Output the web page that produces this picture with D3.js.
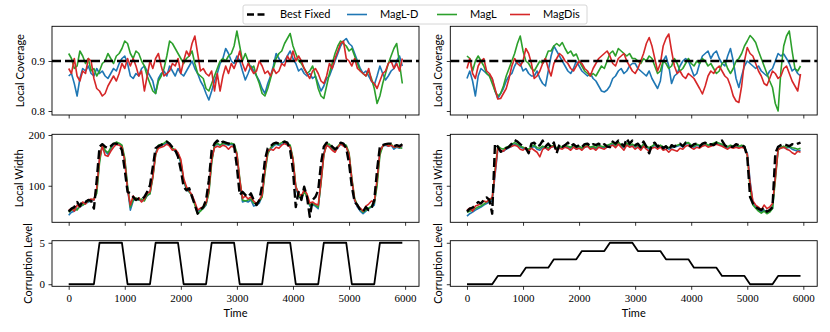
<!DOCTYPE html>
<html>
<head>
<meta charset="utf-8">
<script src="https://cdn.jsdelivr.net/npm/d3@7"></script>
<style>
  body { margin: 0; background: #fff; }
  .lbl { font-family: Lato, "Noto Sans", sans-serif; font-size: 11px; fill: #000; }
</style>
</head>
<body>
<div id="chart"></div>
<script>
// sampling grid, every 50 time steps
var time = d3.range(0, 6000, 50);

var seriesNames = ["Best Fixed", "MagL-D", "MagL", "MagDis"];
var seriesColors = ["#000000", "#1f77b4", "#2ca02c", "#d62728"];

var bestFixedCoverage = 0.9;

// local coverage, left experiment
var covLeftMagLD = [
  0.870,0.875,0.855,0.830,0.865,0.885,0.880,0.890,0.875,0.870,
  0.885,0.875,0.880,0.870,0.865,0.875,0.885,0.880,0.895,0.905,
  0.910,0.895,0.870,0.865,0.875,0.870,0.885,0.890,0.880,0.870,
  0.860,0.835,0.865,0.875,0.880,0.870,0.890,0.880,0.870,0.885,
  0.875,0.870,0.880,0.890,0.900,0.885,0.875,0.860,0.850,0.835,
  0.822,0.840,0.860,0.875,0.895,0.905,0.925,0.915,0.900,0.895,
  0.910,0.900,0.880,0.862,0.875,0.890,0.880,0.870,0.860,0.845,
  0.835,0.855,0.870,0.890,0.915,0.905,0.895,0.900,0.910,0.920,
  0.905,0.895,0.880,0.885,0.875,0.870,0.875,0.865,0.870,0.855,
  0.840,0.850,0.865,0.870,0.885,0.900,0.915,0.930,0.940,0.945,
  0.935,0.930,0.915,0.900,0.885,0.875,0.880,0.870,0.860,0.852,
  0.870,0.890,0.875,0.862,0.870,0.880,0.885,0.900,0.910,0.890];
var covLeftMagL = [
  0.915,0.905,0.885,0.890,0.920,0.910,0.895,0.905,0.880,0.885,
  0.870,0.880,0.895,0.900,0.915,0.905,0.895,0.910,0.915,0.925,
  0.940,0.935,0.915,0.905,0.920,0.915,0.900,0.890,0.870,0.855,
  0.840,0.835,0.860,0.870,0.885,0.910,0.940,0.935,0.925,0.915,
  0.905,0.895,0.905,0.910,0.920,0.895,0.875,0.870,0.865,0.845,
  0.840,0.855,0.870,0.885,0.900,0.905,0.900,0.910,0.915,0.930,
  0.960,0.930,0.900,0.915,0.900,0.885,0.890,0.870,0.855,0.835,
  0.830,0.845,0.865,0.885,0.905,0.915,0.920,0.935,0.945,0.955,
  0.930,0.915,0.900,0.895,0.885,0.875,0.880,0.890,0.870,0.845,
  0.830,0.825,0.850,0.875,0.895,0.915,0.930,0.940,0.935,0.930,
  0.920,0.925,0.910,0.895,0.880,0.875,0.870,0.880,0.865,0.845,
  0.815,0.830,0.855,0.875,0.895,0.910,0.925,0.935,0.895,0.855];
var covLeftMagDis = [
  0.885,0.875,0.905,0.870,0.860,0.880,0.875,0.905,0.900,0.865,
  0.845,0.840,0.830,0.835,0.850,0.860,0.870,0.860,0.875,0.895,
  0.885,0.905,0.890,0.905,0.890,0.870,0.880,0.840,0.870,0.900,
  0.885,0.905,0.915,0.890,0.870,0.875,0.880,0.895,0.890,0.905,
  0.875,0.900,0.920,0.910,0.935,0.950,0.915,0.880,0.885,0.875,
  0.870,0.880,0.840,0.875,0.840,0.870,0.890,0.875,0.895,0.885,
  0.900,0.920,0.895,0.880,0.895,0.885,0.875,0.880,0.900,0.890,
  0.875,0.880,0.870,0.885,0.875,0.880,0.895,0.890,0.910,0.900,
  0.920,0.900,0.910,0.900,0.885,0.875,0.865,0.880,0.885,0.875,
  0.860,0.855,0.870,0.895,0.885,0.905,0.920,0.935,0.940,0.905,
  0.900,0.890,0.905,0.885,0.880,0.875,0.870,0.885,0.860,0.855,
  0.845,0.860,0.875,0.880,0.895,0.900,0.885,0.895,0.880,0.905];

// local coverage, right experiment
var covRightMagLD = [
  0.865,0.880,0.860,0.830,0.870,0.885,0.880,0.875,0.870,0.865,
  0.840,0.825,0.835,0.845,0.860,0.870,0.875,0.890,0.900,0.895,
  0.880,0.885,0.875,0.870,0.870,0.880,0.865,0.855,0.850,0.880,
  0.910,0.930,0.920,0.910,0.900,0.890,0.880,0.875,0.885,0.900,
  0.890,0.880,0.875,0.870,0.875,0.865,0.860,0.850,0.840,0.838,
  0.842,0.850,0.865,0.870,0.880,0.885,0.875,0.880,0.890,0.895,
  0.895,0.885,0.880,0.875,0.870,0.880,0.865,0.855,0.845,0.860,
  0.900,0.910,0.890,0.855,0.870,0.875,0.890,0.900,0.905,0.900,
  0.885,0.870,0.875,0.895,0.910,0.915,0.920,0.905,0.915,0.920,
  0.905,0.895,0.890,0.910,0.925,0.900,0.865,0.847,0.870,0.890,
  0.900,0.895,0.890,0.885,0.890,0.880,0.875,0.870,0.880,0.885,
  0.900,0.915,0.910,0.914,0.905,0.895,0.880,0.885,0.875,0.870];
var covRightMagL = [
  0.910,0.905,0.880,0.900,0.910,0.900,0.890,0.875,0.870,0.855,
  0.840,0.830,0.835,0.850,0.870,0.885,0.900,0.915,0.935,0.950,
  0.920,0.900,0.895,0.885,0.880,0.890,0.900,0.895,0.905,0.920,
  0.920,0.930,0.935,0.930,0.937,0.925,0.915,0.920,0.910,0.914,
  0.900,0.890,0.880,0.875,0.870,0.875,0.870,0.880,0.890,0.885,
  0.900,0.915,0.920,0.910,0.925,0.920,0.915,0.910,0.915,0.905,
  0.905,0.900,0.895,0.905,0.900,0.910,0.905,0.890,0.875,0.880,
  0.900,0.895,0.885,0.890,0.905,0.895,0.880,0.885,0.895,0.905,
  0.895,0.890,0.900,0.895,0.905,0.900,0.890,0.895,0.885,0.875,
  0.880,0.895,0.900,0.885,0.875,0.885,0.900,0.905,0.915,0.930,
  0.940,0.951,0.945,0.937,0.920,0.905,0.890,0.875,0.860,0.847,
  0.815,0.800,0.880,0.930,0.950,0.960,0.920,0.885,0.880,0.890];
var covRightMagDis = [
  0.885,0.905,0.875,0.865,0.890,0.900,0.905,0.880,0.875,0.865,
  0.845,0.824,0.825,0.835,0.845,0.865,0.890,0.905,0.895,0.890,
  0.900,0.925,0.915,0.895,0.865,0.870,0.880,0.895,0.905,0.885,
  0.870,0.895,0.905,0.915,0.910,0.900,0.895,0.885,0.880,0.890,
  0.900,0.895,0.885,0.880,0.870,0.885,0.895,0.905,0.910,0.915,
  0.920,0.910,0.895,0.890,0.905,0.910,0.915,0.900,0.890,0.880,
  0.875,0.885,0.900,0.915,0.935,0.947,0.930,0.905,0.880,0.895,
  0.930,0.945,0.954,0.920,0.890,0.875,0.880,0.870,0.865,0.875,
  0.870,0.865,0.855,0.845,0.834,0.850,0.870,0.880,0.875,0.885,
  0.890,0.880,0.870,0.865,0.850,0.830,0.820,0.817,0.850,0.900,
  0.927,0.915,0.910,0.895,0.880,0.870,0.855,0.851,0.865,0.880,
  0.875,0.865,0.870,0.885,0.890,0.875,0.860,0.850,0.840,0.874];

// local width, left experiment
var widthLeftBest = [
  49,55,58,68,60,70,68,72,70,55,
  111,177,182,177,174,178,183,183,180,170,
  131,88,85,78,72,75,73,78,88,101,
  137,174,178,180,185,187,183,176,170,157,
  131,98,91,95,78,62,45,53,58,72,
  111,170,183,189,183,187,185,183,185,180,
  137,82,88,82,78,85,72,62,72,101,
  151,174,178,183,185,183,185,187,185,170,
  131,58,88,72,98,78,39,72,78,91,
  144,177,185,183,177,172,176,185,183,174,
  144,98,68,62,52,49,58,52,55,72,
  131,178,180,182,183,183,178,180,178,182];
var widthLeftMagLD = [
  42,48,50,55,58,62,65,68,70,72,
  90,150,180,168,162,172,182,185,182,178,
  150,95,52,70,75,72,70,72,80,85,
  120,165,178,180,182,184,180,172,168,162,
  145,110,92,88,82,65,50,52,55,62,
  90,150,178,182,180,183,182,180,182,180,
  160,110,68,70,68,72,60,62,66,80,
  130,165,172,178,182,180,182,184,182,178,
  150,95,80,75,90,80,60,62,60,55,
  110,165,180,178,172,168,175,182,180,178,
  160,110,70,58,50,45,50,55,58,62,
  110,165,178,180,178,180,172,176,174,178];
var widthLeftMagL = [
  48,52,55,52,60,62,66,70,72,74,
  85,145,182,170,165,175,183,186,184,180,
  155,100,58,72,76,72,74,70,82,84,
  115,160,180,182,184,188,182,174,170,164,
  148,112,95,88,80,62,45,50,56,64,
  85,145,180,184,180,184,183,182,184,182,
  165,115,72,70,72,74,66,64,70,78,
  125,162,175,180,184,182,185,188,184,180,
  155,100,82,76,88,78,62,64,62,58,
  105,160,182,182,175,170,178,184,182,180,
  165,115,75,62,54,48,52,56,60,66,
  100,160,178,182,180,182,176,178,175,174];
var widthLeftMagDis = [
  52,55,50,62,58,68,64,72,74,72,
  95,155,178,160,158,168,176,182,180,176,
  148,92,62,80,72,76,68,74,85,88,
  118,162,174,176,178,182,178,170,172,165,
  152,115,98,90,82,68,52,56,58,66,
  92,152,175,178,176,180,178,172,178,176,
  162,112,75,80,74,78,70,65,72,82,
  132,168,172,170,176,174,180,183,180,176,
  152,98,85,80,92,84,66,68,64,62,
  108,162,180,176,170,166,176,183,178,176,
  162,112,72,60,56,50,60,64,70,68,
  112,168,178,182,178,180,176,178,176,180];

// local width, right experiment
var widthRightBest = [
  49,55,57,62,68,65,72,77,72,45,
  183,177,167,169,174,177,183,190,187,182,
  178,174,164,183,185,177,180,189,177,183,
  176,185,164,182,177,180,185,178,182,177,
  180,176,182,183,178,182,180,183,178,182,
  177,176,187,183,189,183,178,193,183,189,
  180,183,176,187,177,164,182,185,177,182,
  174,178,170,180,177,182,183,178,185,180,
  177,182,183,177,183,185,180,182,180,185,
  187,189,180,176,177,177,182,180,180,177,
  157,78,65,58,55,52,57,49,52,58,
  164,177,180,182,180,178,182,180,183,185];
var widthRightMagLD = [
  40,45,48,52,55,58,62,65,68,70,
  120,172,170,168,172,175,178,182,180,176,
  174,172,170,175,178,172,170,176,174,172,
  176,178,172,176,174,178,176,174,178,172,
  175,172,176,178,174,176,172,178,176,175,
  178,180,182,178,184,178,175,182,178,180,
  176,178,174,180,176,172,176,180,175,178,
  174,176,172,175,176,178,180,176,182,184,
  178,176,180,178,180,182,178,180,182,184,
  182,180,176,175,178,176,178,176,178,175,
  165,110,66,58,52,48,52,46,50,55,
  120,172,175,176,174,176,172,170,168,170];
var widthRightMagL = [
  48,50,52,55,58,60,64,68,72,75,
  130,178,174,172,176,178,182,185,182,178,
  176,174,172,178,180,175,174,178,176,175,
  178,180,174,178,176,180,178,176,180,175,
  178,174,178,180,176,178,175,180,178,177,
  180,182,185,180,186,180,177,184,180,182,
  178,180,176,182,178,175,178,182,177,180,
  176,178,175,177,178,180,182,178,184,185,
  180,178,182,180,182,184,180,182,184,186,
  184,182,178,177,180,178,180,178,180,178,
  160,95,62,56,50,46,50,45,48,55,
  110,170,176,178,176,178,175,174,172,174];
var widthRightMagDis = [
  52,56,50,60,62,66,70,68,74,76,
  125,175,170,168,174,176,178,180,178,172,
  170,175,168,174,170,166,157,172,175,170,
  176,178,170,174,172,176,174,170,176,172,
  174,170,176,178,172,174,170,176,174,172,
  176,178,180,175,182,176,170,180,176,178,
  172,176,170,178,172,168,174,176,172,176,
  170,172,166,172,170,168,174,172,178,180,
  175,172,176,174,178,180,176,178,180,182,
  180,178,175,172,176,174,176,174,176,174,
  162,105,70,62,58,52,62,55,58,65,
  115,172,174,176,172,170,165,162,168,166];

// corruption level schedule
var corrTime = [0,450,550,950,1050,1450,1550,1950,2050,2450,2550,2950,3050,3450,3550,3950,4050,4450,4550,4950,5050,5450,5550,5950];
var corrLeftLevel = [0,0,5,5,0,0,5,5,0,0,5,5,0,0,5,5,0,0,5,5,0,0,5,5];
var corrRightLevel = [0,0,1,1,2,2,3,3,4,4,5,5,4,4,3,3,2,2,1,1,0,0,1,1];

var xTicks = [0,1000,2000,3000,4000,5000,6000];

var serif = '"Liberation Serif", "DejaVu Serif", serif';

var svg = d3.select("#chart").append("svg")
  .attr("width", 830)
  .attr("height", 332);

var cols = [[52, 419], [450.3, 817.2]];
var rows = {
  cov:  { top: 26.3,  bottom: 115,   domain: [0.792, 0.9694], ticks: [0.8, 0.9], fmt: d3.format(".1f"), label: "Local Coverage", lx: [20, 438] },
  wid:  { top: 134.3, bottom: 222.3, domain: [28, 201.4],     ticks: [100, 200], fmt: d3.format("d"),   label: "Local Width",    lx: [19, 438] },
  corr: { top: 240.7, bottom: 286.3, domain: [-0.25, 5.25],   ticks: [0, 5],     fmt: d3.format("d"),   label: "Corruption Level", lx: [28, 438] }
};

function makePanel(row, col, lines, xLabels) {
  var r = rows[row];
  var x = d3.scaleLinear().domain([-297.5, 6247.5]).range(cols[col]);
  var y = d3.scaleLinear().domain(r.domain).range([r.bottom, r.top]);
  var g = svg.append("g");

  lines.forEach(function(l) {
    var line = d3.line()
      .x(function(d, i) { return x(l.t[i]); })
      .y(function(d) { return y(d); });
    g.append("path")
      .datum(l.v)
      .attr("d", line)
      .attr("fill", "none")
      .attr("stroke", l.color)
      .attr("stroke-width", l.width || 1.6)
      .attr("stroke-dasharray", l.dash || null)
      .attr("stroke-linejoin", "round");
  });

  // frame
  g.append("rect")
    .attr("x", cols[col][0]).attr("y", r.top)
    .attr("width", cols[col][1] - cols[col][0])
    .attr("height", r.bottom - r.top)
    .attr("fill", "none").attr("stroke", "#000").attr("stroke-width", 0.9);

  var ya = d3.axisLeft(y).tickValues(r.ticks).tickSize(3.5).tickPadding(3.5)
    .tickFormat(col == 0 ? r.fmt : "");
  g.append("g").attr("transform", "translate(" + cols[col][0] + ",0)").call(ya)
    .attr("font-family", serif).attr("font-size", 11)
    .call(function(s) { s.select(".domain").remove(); });

  var xa = d3.axisBottom(x).tickValues(xTicks).tickSize(3.5).tickPadding(4)
    .tickFormat(xLabels ? d3.format("d") : "");
  g.append("g").attr("transform", "translate(0," + r.bottom + ")").call(xa)
    .attr("font-family", serif).attr("font-size", 11)
    .call(function(s) { s.select(".domain").remove(); });

  g.selectAll(".tick line").attr("stroke-width", 0.8);
  g.selectAll(".tick text").attr("fill", "#000");

  g.append("text").attr("class", "lbl")
    .attr("transform", "translate(" + r.lx[col] + "," + ((r.top + r.bottom) / 2) + ") rotate(-90)")
    .attr("text-anchor", "middle").attr("dy", "0.35em")
    .text(r.label);

  if (xLabels) {
    g.append("text").attr("class", "lbl")
      .attr("x", (cols[col][0] + cols[col][1]) / 2).attr("y", 317)
      .attr("text-anchor", "middle")
      .text("Time");
  }
  return { x: x, y: y };
}

var xAll = [-297.5, 6247.5];
var covSets = [[covLeftMagLD, covLeftMagL, covLeftMagDis], [covRightMagLD, covRightMagL, covRightMagDis]];
var widSets = [[widthLeftBest, widthLeftMagLD, widthLeftMagL, widthLeftMagDis], [widthRightBest, widthRightMagLD, widthRightMagL, widthRightMagDis]];
var corrSets = [corrLeftLevel, corrRightLevel];

[0, 1].forEach(function(c) {
  var cs = covSets[c];
  makePanel("cov", c, [
    { t: time, v: cs[0], color: seriesColors[1] },
    { t: time, v: cs[1], color: seriesColors[2] },
    { t: time, v: cs[2], color: seriesColors[3] },
    { t: xAll, v: [bestFixedCoverage, bestFixedCoverage], color: seriesColors[0], width: 2.4, dash: "9,4" }
  ], false);

  var ws = widSets[c];
  makePanel("wid", c, [
    { t: time, v: ws[1], color: seriesColors[1] },
    { t: time, v: ws[2], color: seriesColors[2] },
    { t: time, v: ws[3], color: seriesColors[3] },
    { t: time, v: ws[0], color: seriesColors[0], width: 2.4, dash: "9,4" }
  ], false);

  makePanel("corr", c, [
    { t: corrTime, v: corrSets[c], color: "#000", width: 1.8 }
  ], true);
});

// legend
var leg = svg.append("g");
leg.append("rect")
  .attr("x", 243).attr("y", 5).attr("width", 344).attr("height", 19).attr("rx", 2)
  .attr("fill", "#fff").attr("stroke", "#cccccc").attr("stroke-width", 0.8);
var legX = [247, 347, 437, 510];
seriesNames.forEach(function(name, i) {
  leg.append("line")
    .attr("x1", legX[i]).attr("x2", legX[i] + 20)
    .attr("y1", 14.5).attr("y2", 14.5)
    .attr("stroke", seriesColors[i])
    .attr("stroke-width", i == 0 ? 2.4 : 1.6)
    .attr("stroke-dasharray", i == 0 ? "7,3.5" : null);
  leg.append("text").attr("class", "lbl")
    .attr("x", legX[i] + 33).attr("y", 14.5).attr("dy", "0.35em")
    .text(name);
});
</script>
</body>
</html>
